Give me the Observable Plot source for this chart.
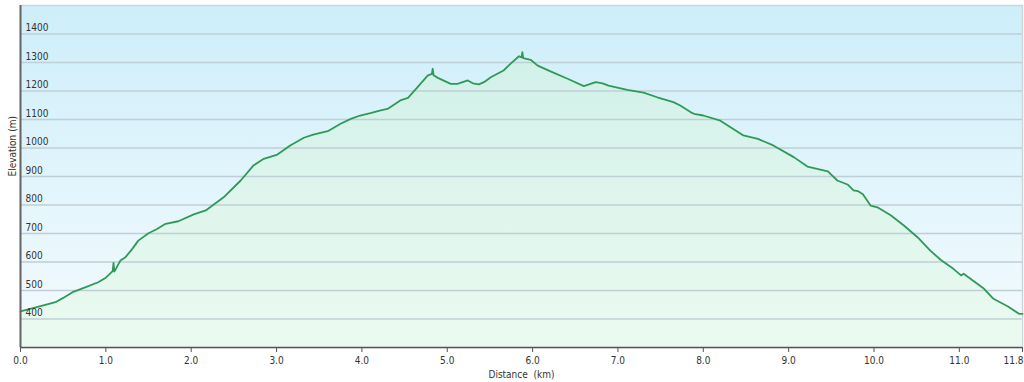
<!DOCTYPE html>
<html>
<head>
<meta charset="utf-8">
<script src="https://cdn.jsdelivr.net/npm/d3@7"></script>
<script src="https://cdn.jsdelivr.net/npm/@observablehq/plot@0.6"></script>
<style>
  html, body { margin: 0; padding: 0; background: #fff; }
</style>
</head>
<body>
<div id="chart"></div>
<script>
const distKm = [0, 0.18, 0.41, 0.50, 0.61, 0.75, 0.91, 1.00, 1.08, 1.09, 1.10, 1.17, 1.23, 1.31, 1.38, 1.50, 1.60, 1.70, 1.85, 2.03, 2.17, 2.38, 2.58, 2.73, 2.85, 3.01, 3.16, 3.32, 3.43, 3.60, 3.75, 3.87, 3.98, 4.10, 4.22, 4.30, 4.45, 4.54, 4.65, 4.77, 4.82, 4.83, 4.84, 4.89, 5.04, 5.12, 5.24, 5.30, 5.37, 5.43, 5.51, 5.66, 5.74, 5.84, 5.87, 5.88, 5.89, 5.98, 6.06, 6.21, 6.41, 6.60, 6.74, 6.82, 6.89, 7.11, 7.30, 7.46, 7.65, 7.73, 7.85, 7.89, 8.00, 8.20, 8.47, 8.64, 8.82, 9.06, 9.22, 9.46, 9.57, 9.69, 9.76, 9.81, 9.87, 9.96, 10.04, 10.20, 10.35, 10.51, 10.66, 10.78, 10.93, 11.02, 11.05, 11.29, 11.40, 11.57, 11.70, 11.74];
const elevM = [427, 441, 459, 474, 494, 510, 529, 545, 568, 597, 566, 605, 617, 646, 675, 701, 716, 734, 743, 767, 781, 827, 886, 939, 962, 977, 1009, 1036, 1047, 1059, 1085, 1102, 1114, 1122, 1132, 1137, 1167, 1176, 1213, 1254, 1260, 1278, 1255, 1246, 1225, 1225, 1237, 1227, 1223, 1231, 1248, 1272, 1295, 1322, 1318, 1336, 1315, 1309, 1289, 1269, 1243, 1217, 1231, 1227, 1219, 1204, 1194, 1178, 1161, 1149, 1126, 1120, 1114, 1096, 1044, 1032, 1009, 968, 935, 918, 886, 872, 851, 849, 838, 798, 792, 763, 728, 687, 640, 608, 576, 553, 559, 506, 471, 444, 418, 418];
const yTicks = [400, 500, 600, 700, 800, 900, 1000, 1100, 1200, 1300, 1400];
const xTicks = [0, 1, 2, 3, 4, 5, 6, 7, 8, 9, 10, 11, 11.74];
const xTickLabels = ["0.0", "1.0", "2.0", "3.0", "4.0", "5.0", "6.0", "7.0", "8.0", "9.0", "10.0", "11.0", "11.8"];
const xTitle = "Distance\u00a0 (km)";
const yTitle = "Elevation (m)";

const profile = distKm.map((d, i) => ({d, e: elevM[i]}));
const xLabel = d => xTickLabels[xTicks.indexOf(d)];
const lastTick = xTicks[xTicks.length - 1];

const defsMark = () => {
  const defs = d3.create("svg:defs");
  const bg = defs.append("linearGradient").attr("id", "bgGrad")
    .attr("gradientUnits", "userSpaceOnUse").attr("x1", 0).attr("x2", 0).attr("y1", 5).attr("y2", 347);
  bg.append("stop").attr("offset", "0").attr("stop-color", "#cdeefa");
  bg.append("stop").attr("offset", "1").attr("stop-color", "#f5fbfe");
  const ar = defs.append("linearGradient").attr("id", "areaGrad")
    .attr("gradientUnits", "userSpaceOnUse").attr("x1", 0).attr("x2", 0).attr("y1", 5).attr("y2", 347);
  ar.append("stop").attr("offset", "0").attr("stop-color", "#cdefe8");
  ar.append("stop").attr("offset", "1").attr("stop-color", "#ebfaf0");
  return defs.node();
};

const chart = Plot.plot({
  width: 1024,
  height: 382,
  marginLeft: 20,
  marginRight: 2,
  marginTop: 5,
  marginBottom: 35,
  style: {fontFamily: "'DejaVu Sans Condensed', 'DejaVu Sans', sans-serif", fontSize: "10px", color: "#333", background: "#fff"},
  x: {domain: [0, 11.74]},
  y: {domain: [300, 1500]},
  marks: [
    defsMark,
    Plot.frame({fill: "url(#bgGrad)", stroke: "#cdd5d9", strokeWidth: 1.5}),
    Plot.areaY(profile, {x: "d", y1: () => 300, y2: "e", fill: "url(#areaGrad)"}),
    Plot.ruleY(yTicks, {stroke: "#bfcfd7", strokeWidth: 1.5}),
    Plot.lineY(profile, {x: "d", y: "e", stroke: "#2f9a58", strokeWidth: 1.8}),
    Plot.axisY(yTicks, {tickSize: 0, tickFormat: d => String(d), textAnchor: "start", dx: 14, dy: -6, label: null, fill: "#333"}),
    Plot.axisX(xTicks, {tickSize: 5, tickFormat: d => (d === lastTick ? "" : xLabel(d)), label: null, stroke: "#555", fill: "#333"}),
    Plot.axisX([lastTick], {tickSize: 0, tickFormat: xLabel, textAnchor: "end", dx: 1, label: null, fill: "#333"}),
    Plot.ruleX([0], {stroke: "#666", strokeWidth: 2}),
    Plot.ruleY([300], {stroke: "#555", strokeWidth: 1.5}),
    Plot.text([yTitle], {frameAnchor: "left", rotate: -90, dx: -8, text: d => d, fill: "#333"}),
    Plot.text([xTitle], {frameAnchor: "bottom", lineAnchor: "middle", dy: 27, text: d => d, fill: "#333"})
  ]
});
document.getElementById("chart").appendChild(chart);
</script>
</body>
</html>
